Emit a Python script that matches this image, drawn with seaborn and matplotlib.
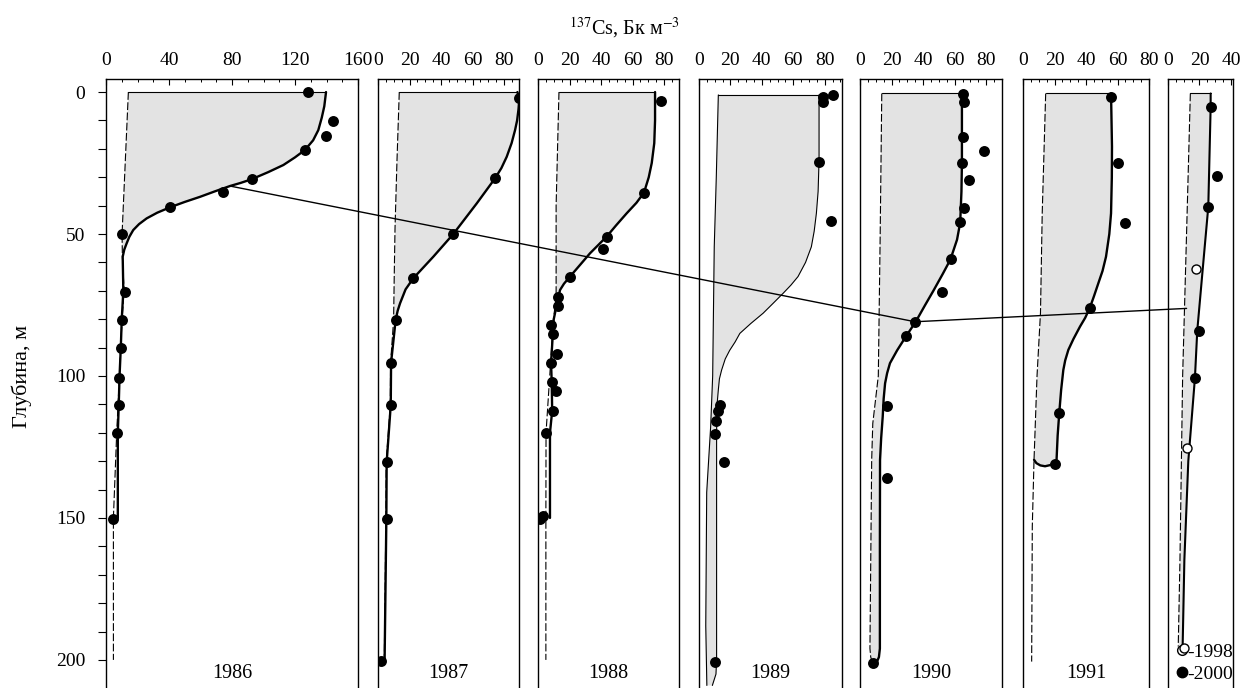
import numpy as np
import matplotlib
matplotlib.use("Agg")
import matplotlib.pyplot as plt
import seaborn as sns
from matplotlib.patches import ConnectionPatch
from matplotlib.lines import Line2D
from matplotlib.ticker import MultipleLocator

# ---- data ----
years = ['1986', '1987', '1988', '1989', '1990', '1991', '']
x_max = [160, 89.5, 89.5, 91, 90, 80, 41.3]
x_major = [40, 20, 20, 20, 20, 20, 20]
x_minor = [10, 5, 5, 5, 5, 5, 5]

# 1986
d86 = [0, 5, 9, 13.4, 17, 20.4, 23, 25.7, 28.2, 30.7, 32, 33.1, 35, 36.9, 38.7, 40.6, 42.5, 44.5,
       46.5, 48.6, 51, 53.3, 55.5, 58, 70, 80, 90, 100, 110, 120, 150, 150]
v86 = [139.7, 138.6, 137.0, 134.8, 131.5, 126.3, 120.0, 112.6, 103.0, 92.5, 85.5, 78.7, 69.0, 59.7,
       50.0, 40.6, 32.5, 25.8, 21.0, 17.3, 14.8, 13.1, 11.6, 10.6, 11.0, 10.0, 9.4, 8.6, 8.1, 7.5, 7.5, 4.7]
b86_d = [0, 25, 50, 58, 70, 80, 100, 120, 150, 200]
b86_v = [14.2, 12.2, 10.2, 10.4, 11.5, 10.2, 8.5, 6.8, 4.7, 4.7]
dots86_d = [0, 10.2, 15.4, 20.4, 30.7, 35.3, 40.6, 50.1, 70.3, 80.3, 90.3, 100.6, 110.2, 120.2, 150.5]
dots86_v = [128.5, 143.9, 139.6, 126.3, 92.5, 74.5, 40.6, 9.9, 12.0, 10.4, 9.5, 8.5, 8.0, 6.7, 4.7]

# 1987
d87 = [0, 2.2, 6, 10, 13.4, 18, 22.8, 26.8, 30.4, 39.2, 50, 58, 65.6, 69.5, 74.4, 77, 80.3, 95.3,
       110.2, 130.4, 150.5, 200]
v87 = [88.5, 89.7, 89.2, 88.3, 87.0, 84.8, 81.7, 78.3, 74.3, 62.7, 47.8, 35.1, 22.4, 17.5, 14.0,
       12.5, 11.2, 8.3, 8.1, 5.5, 5.3, 4.2]
b87_d = [0, 25, 48, 65, 80.3, 95.3, 110.2, 130.4, 150.5, 200]
b87_v = [13.5, 12.0, 10.8, 10.3, 9.9, 8.0, 7.8, 5.2, 5.0, 4.0]
dots87_d = [2.2, 30.4, 50.0, 65.6, 80.3, 95.3, 110.2, 130.4, 150.5, 200.4]
dots87_v = [89.7, 74.3, 47.8, 22.4, 11.2, 8.3, 8.1, 5.5, 5.5, 1.9]

# 1988
d88 = [0, 10, 18, 25, 30, 35.4, 39, 42.7, 47, 50.9, 56.8, 61, 65, 67.5, 69.7, 72.3, 76, 80, 95.3,
       102.2, 112.3, 120, 150]
v88 = [74.3, 74.3, 73.8, 72.2, 70.3, 67.3, 62.5, 56.3, 49.5, 43.6, 33.0, 26.5, 20.3, 16.5, 14.0,
       12.9, 11.5, 10.0, 8.3, 8.7, 9.0, 7.6, 7.6]
b88_d = [0, 40, 72.3, 80, 95.3, 120, 150, 200]
b88_v = [13.3, 11.5, 11.5, 9.8, 8.0, 5.1, 5.0, 5.0]
dots88_d = [3.1, 35.4, 50.9, 55.3, 65.0, 72.3, 75.4, 82.0, 85.2, 92.3, 95.3, 102.2, 105.2, 112.3, 120.2, 149.3, 150.5]
dots88_v = [78.1, 67.3, 43.6, 41.5, 20.3, 12.9, 12.9, 8.1, 9.8, 11.9, 8.3, 8.7, 11.4, 9.8, 5.1, 3.0, 1.3]

# 1989
d89 = [1, 24, 35, 42.7, 49, 54.5, 60, 65, 68, 70.9, 74.5, 77.9, 81.5, 85, 88, 91, 94, 97.9, 101,
       104.9, 110, 120, 150, 200, 205, 209]
v89 = [76.4, 76.4, 75.8, 74.7, 73.3, 71.5, 67.8, 63.0, 58.5, 53.5, 47.0, 40.8, 33.0, 26.0, 23.0,
       19.5, 16.7, 14.4, 13.0, 12.3, 11.5, 11.2, 11.2, 11.2, 10.8, 8.5]
b89_d = [1, 30, 54.5, 100, 118, 141, 188, 209]
b89_v = [12.3, 11.0, 9.7, 8.7, 7.4, 4.9, 4.3, 5.0]
dots89_d = [1.1, 1.6, 3.4, 24.8, 45.4, 110.2, 112.3, 115.7, 120.4, 130.2, 200.6]
dots89_v = [85.5, 78.9, 78.9, 76.4, 83.9, 13.3, 11.9, 10.8, 10.2, 15.9, 10.2]

# 1990
d90 = [0.5, 25, 35, 46, 52, 59, 64, 70, 75, 81, 86, 91, 95.5, 99, 102.6, 108, 114.3, 122, 129.6,
       160, 196, 199, 201]
v90 = [64.6, 64.6, 64.3, 63.5, 61.5, 57.3, 52.5, 46.5, 41.3, 35.2, 29.2, 23.5, 19.0, 17.2, 15.9,
       15.0, 14.4, 13.4, 12.7, 12.6, 12.6, 12.0, 10.5]
b90_d = [0.5, 50, 100, 116.7, 129.6, 196, 199, 201]
b90_v = [13.8, 12.8, 11.6, 8.1, 7.4, 6.3, 6.8, 8.0]
dots90_d = [0.8, 3.4, 15.7, 20.8, 24.9, 31.0, 40.7, 45.9, 58.9, 70.5, 80.9, 85.9, 110.6, 135.8, 201.0]
dots90_v = [65.2, 65.6, 65.2, 78.3, 64.6, 69.4, 66.0, 63.5, 57.6, 51.9, 34.9, 29.2, 17.0, 17.0, 8.5]

# 1991
d91 = [0.5, 19.2, 30, 42.7, 50, 58, 63, 67.4, 72, 75.9, 79.5, 82.6, 87, 90.8, 94.5, 97.9, 105,
       113.2, 121, 129.6, 131, 131.8, 131.5, 130.7, 129.5]
v91 = [55.9, 56.5, 56.4, 55.9, 54.8, 52.7, 50.5, 47.8, 45.0, 42.5, 39.5, 36.2, 32.0, 28.8, 26.8,
       25.6, 24.2, 23.0, 22.0, 21.3, 20.3, 14.0, 11.0, 8.5, 7.0]
b91_d = [0.5, 42.7, 77.8, 100, 129.5, 153, 200.6]
b91_v = [14.4, 12.2, 11.1, 8.9, 7.0, 5.9, 5.5]
dots91_d = [1.6, 24.9, 46.0, 75.9, 113.2, 131.0]
dots91_v = [55.9, 60.1, 65.0, 42.5, 23.0, 20.3]

# 1998-2000
d00 = [0.5, 5.2, 40.4, 61.5, 84, 100.8, 130, 164.8, 195.3]
v00 = [27.1, 27.1, 25.6, 22.2, 18.6, 17.1, 12.9, 10.4, 9.3]
b00_d = [0.5, 49.7, 100, 164.8, 195.3]
b00_v = [14.2, 11.8, 9.3, 7.6, 6.5]
dots00_d = [5.2, 29.5, 40.4, 84.0, 100.8]
dots00_v = [27.1, 31.3, 25.6, 19.7, 17.1]
open98_d = [62.3, 125.5, 195.9]
open98_v = [17.8, 11.9, 10.2]

# depth of the concentration front, panels 1986 -> 1990 -> 1998/2000
peak_panel = [0, 4, 6]
peak_v = [78.7, 34.9, 11.8]
peak_d = [33.1, 80.9, 76.2]

prof_d = [d86, d87, d88, d89, d90, d91, d00]
prof_v = [v86, v87, v88, v89, v90, v91, v00]
base_d = [b86_d, b87_d, b88_d, b89_d, b90_d, b91_d, b00_d]
base_v = [b86_v, b87_v, b88_v, b89_v, b90_v, b91_v, b00_v]
dots_d = [dots86_d, dots87_d, dots88_d, dots89_d, dots90_d, dots91_d, dots00_d]
dots_v = [dots86_v, dots87_v, dots88_v, dots89_v, dots90_v, dots91_v, dots00_v]
fill_to = [58, 80.3, 72.3, 209, 201, 131.8, 195.3]

# ---- layout (pixels of the 1241x688 picture) ----
W, H = 1241, 688
ax_left = [106, 378, 538, 699, 860, 1023, 1168]
ax_right = [358, 519, 679, 842, 1002, 1149, 1233]
top_px = 79
solid_lw = [1.7, 1.7, 1.7, 0.8, 1.7, 1.7, 1.5]
base_ls = ['dash', 'dash', 'dash', 'solid', 'dash', 'dash', 'dash']

sns.set_style('white', {'axes.edgecolor': 'black', 'xtick.color': 'black',
                        'ytick.color': 'black', 'text.color': 'black'})
plt.rcParams['font.family'] = ['Liberation Serif', 'DejaVu Serif']
plt.rcParams['mathtext.fontset'] = 'stix'

fig = plt.figure(figsize=(W / 100, H / 100), dpi=100)
axes = []
for i in range(7):
    l, r = ax_left[i], ax_right[i]
    ax = fig.add_axes([l / W, 0, (r - l) / W, (H - top_px) / H])
    axes.append(ax)

    pd_ = np.array(prof_d[i]); pv = np.array(prof_v[i])
    bd = np.array(base_d[i]); bv = np.array(base_v[i])
    m1 = pd_ <= fill_to[i]
    m2 = bd <= fill_to[i]
    ax.fill(np.r_[pv[m1], bv[m2][::-1]], np.r_[pd_[m1], bd[m2][::-1]],
            color='#e3e3e3', lw=0, zorder=1)
    # top edge of the shaded area
    ax.plot([bv[0], pv[0]], [bd[0], pd_[0]], color='black', lw=0.8, zorder=2)

    ls = (0, (7, 2.2)) if base_ls[i] == 'dash' else '-'
    sns.lineplot(x=bv, y=bd, sort=False, estimator=None, ax=ax, color='black',
                 lw=0.8, linestyle=ls, zorder=3)
    sns.lineplot(x=pv, y=pd_, sort=False, estimator=None, ax=ax, color='black',
                 lw=solid_lw[i], zorder=4)
    sns.scatterplot(x=dots_v[i], y=dots_d[i], ax=ax, color='black', s=62,
                    linewidth=0, zorder=6)

    ax.set_xlim(0, x_max[i])
    ax.set_ylim(209.9, -4.6)
    ax.set_xlabel('')
    ax.set_ylabel('')
    ax.xaxis.tick_top()
    ax.xaxis.set_major_locator(MultipleLocator(x_major[i]))
    ax.xaxis.set_minor_locator(MultipleLocator(x_minor[i]))
    ax.tick_params(axis='x', which='both', direction='in', top=True, bottom=False,
                   labeltop=True, labelbottom=False, labelsize=14, pad=7)
    ax.tick_params(axis='x', which='major', length=4, width=0.8)
    ax.tick_params(axis='x', which='minor', length=2.5, width=0.7)
    for s in ['left', 'right', 'top']:
        ax.spines[s].set_linewidth(1.0)
    ax.spines['bottom'].set_visible(False)
    if i == 0:
        ax.yaxis.set_major_locator(MultipleLocator(50))
        ax.yaxis.set_minor_locator(MultipleLocator(10))
        ax.tick_params(axis='y', which='both', direction='out', left=True, right=False,
                       length=6, width=0.8, labelsize=14, pad=9)
    else:
        ax.tick_params(axis='y', which='both', left=False, right=False, labelleft=False)
    if years[i]:
        ax.text(0.5, 206.3, years[i], transform=ax.get_yaxis_transform(),
                ha='center', va='baseline', fontsize=14.5)

# 1998 profile points in the last panel
sns.scatterplot(x=open98_v, y=open98_d, ax=axes[6], color='white', edgecolor='black',
                s=42, linewidth=1.0, zorder=7)
axes[6].set_xlabel('')
axes[6].set_ylabel('')

handles = [Line2D([], [], marker='o', ls='', mfc='white', mec='black', ms=7, mew=1.0),
           Line2D([], [], marker='o', ls='', mfc='black', mec='black', ms=7.5)]
axes[6].legend(handles, ['-1998', '-2000'], loc='lower right', bbox_to_anchor=(1.0, 0.008),
               frameon=False, handlelength=0.5, handletextpad=0.0, borderpad=0,
               borderaxespad=0, labelspacing=0.25, fontsize=14)

# line joining the front depth across years
for a, b in zip(range(len(peak_panel) - 1), range(1, len(peak_panel))):
    con = ConnectionPatch(xyA=(peak_v[a], peak_d[a]), coordsA=axes[peak_panel[a]].transData,
                          xyB=(peak_v[b], peak_d[b]), coordsB=axes[peak_panel[b]].transData,
                          color='black', lw=1.0, zorder=10)
    fig.add_artist(con)

fig.text(624 / W, 1 - 28 / H, r'$^{137}$Cs, Бк м$^{-3}$', ha='center', va='center', fontsize=14.5)
fig.text(22 / W, 1 - 376 / H, 'Глубина, м', rotation=90, ha='center', va='center', fontsize=16)

fig.savefig('out.png', dpi=100)
